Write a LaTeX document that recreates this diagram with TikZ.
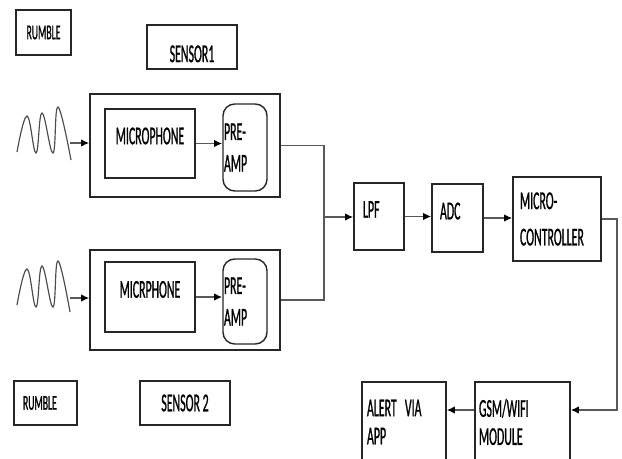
\documentclass[tikz,border=0pt]{standalone}
\usepackage{fontspec}
\setmainfont{Carlito}[FakeStretch=0.46, FakeBold=0.8]
\usetikzlibrary{arrows.meta}

\begin{document}
\begin{tikzpicture}[
        x=0.03cm, y=-0.03cm,
        font=\fontsize{22}{27}\selectfont,
        block/.style={
            draw=black!85,
            line width=1.2pt,
            inner sep=0pt,
            align=center
        },
        leftblock/.style={
            block,
            align=left,
            inner xsep=#1
        },
        link/.style={
            draw=black!65,
            line width=1.4pt
        },
        flow/.style={
            link,
            -{Latex[length=7pt,width=6.5pt,color=black]}
        },
        wave/.style={
            draw=black!70,
            line width=1pt
        }
    ]
    \useasboundingbox (0,0) rectangle (622,459);
    \clip (0,0) rectangle (622,459);
    % Beschriftungen oben
    \node[block, minimum width=1.65cm, minimum height=1.35cm,
          font=\fontsize{18}{20}\selectfont] (rumble1) at (43.5,32.5) {RUMBLE};
    \node[block, minimum width=2.7cm, minimum height=1.32cm,
          text height=26pt] (sensor1) at (192,47) {SENSOR1};
    % Sensor 1
    \node[block, minimum width=5.7cm, minimum height=3.09cm] (housing1) at (185,145.5) {};
    \node[block, minimum width=2.7cm, minimum height=2.07cm,
          text depth=13pt] (mic1) at (150,143.5) {MICROPHONE};
    \node[leftblock=0.03cm, text width=1.26cm, minimum height=2.61cm,
          rounded corners=10pt] (preamp1) at (245,147.5) {PRE-\\AMP};
    % Sensor 2
    \node[block, minimum width=5.7cm, minimum height=3cm] (housing2) at (185,300) {};
    \node[block, minimum width=2.7cm, minimum height=2.1cm,
          text depth=13pt] (mic2) at (150,297) {MICRPHONE};
    \node[leftblock=0.03cm, text width=1.26cm, minimum height=2.55cm,
          rounded corners=10pt] (preamp2) at (245,301.5) {PRE-\\AMP};
    % Beschriftungen unten
    \node[leftblock=0.27cm, text width=1.35cm, minimum height=1.32cm,
          font=\fontsize{18}{20}\selectfont] (rumble2) at (45.5,403) {RUMBLE};
    \node[block, minimum width=2.7cm, minimum height=1.32cm] (sensor2) at (185,403) {SENSOR 2};
    % Signalkette
    \node[leftblock=0.27cm, text width=0.96cm, minimum height=2.01cm,
          text depth=12pt] (lpf) at (379,216.5) {LPF};
    \node[leftblock=0.24cm, text width=1.05cm, minimum height=2.04cm,
          text depth=12pt] (adc) at (457.5,218) {ADC};
    \node[leftblock=0.21cm, text width=2.22cm, minimum height=2.52cm,
          font=\fontsize{22}{31}\selectfont] (mc) at (557,219) {MICRO-\\CONTROLLER};
    \node[leftblock=0.12cm, text width=2.61cm, minimum height=2.4cm,
          font=\fontsize{22}{24}\selectfont] (gsm) at (522.5,422) {GSM/WIFI\\MODULE};
    \node[leftblock=0.15cm, text width=2.22cm, minimum height=2.4cm,
          font=\fontsize{22}{24}\selectfont] (alert) at (404,422) {ALERT\hspace{7pt}VIA\\APP};
    % Wellen
    \draw[wave] plot[smooth, tension=0.7] coordinates
        {(17,152) (27,116) (36,153) (42,113) (53,153) (58,107) (71,160)};
    \draw[wave] plot[smooth, tension=0.7] coordinates
        {(17,305) (27,269) (36,307) (42,266) (53,307) (58,261) (70,312)};
    \coordinate (w1end) at (70,143);
    \coordinate (w2end) at (70,298);
    % Verbindungen
    \draw[flow] (w1end) -- (w1end -| housing1.west);
    \draw[flow] (w2end) -- (w2end -| housing2.west);
    \draw[flow] (mic1.east) -- (mic1.east -| preamp1.west);
    \draw[flow] (mic2.east) -- (mic2.east -| preamp2.west);
    \coordinate (join) at (324,217);
    \draw[link] (housing1.east) -| (join);
    \draw[link] (housing2.east) -| (join);
    \draw[flow] (join) -- (join -| lpf.west);
    \draw[flow] (lpf.east) -- (lpf.east -| adc.west);
    \draw[flow] (adc.east) -- (adc.east -| mc.west);
    \coordinate (turn) at (617,410);
    \draw[flow] (mc.east) -| (turn) -- (turn -| gsm.east);
    \draw[flow] (gsm.west |- turn) -- (alert.east |- turn);
\end{tikzpicture}
\end{document}
